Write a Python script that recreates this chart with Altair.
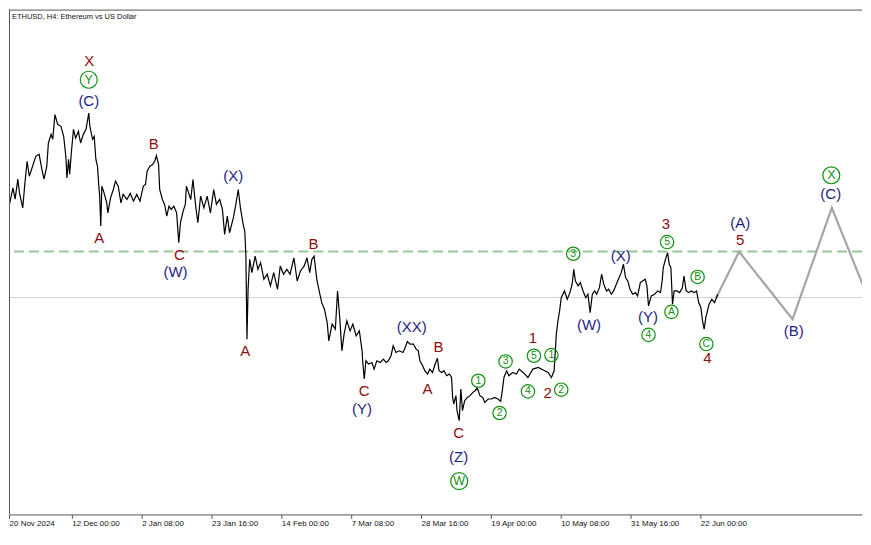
import altair as alt
import pandas as pd

# ---------------- data (H4 bar index from 20 Nov 2024 16:00, price in USD) -------------
tick_values = [13, 128, 256, 384, 512, 640, 768, 896, 1024, 1152, 1280]
tick_labels = ["20 Nov 2024", "12 Dec 00:00", "2 Jan 08:00", "23 Jan 16:00", "14 Feb 00:00",
               "7 Mar 08:00", "28 Mar 16:00", "19 Apr 00:00", "10 May 08:00", "31 May 16:00",
               "22 Jun 00:00"]

bars = [1, 5, 9, 13, 20, 24, 29, 32, 38, 42, 46, 50, 56, 62, 68, 73, 77, 82, 85, 90, 93, 97, 102,
        108, 113, 117, 119, 122, 124, 127, 131, 135, 140, 144, 149, 154, 159, 161, 166, 169, 172,
        175, 177, 179, 181, 183, 187, 192, 194, 199, 204, 208, 213, 218, 222, 229, 235, 241, 247,
        253, 259, 263, 266, 271, 276, 280, 283, 287, 289, 294, 298, 302, 306, 310, 315, 320,
        324, 327, 332, 336, 338, 342, 346, 350, 355, 359, 364, 370, 376, 382, 388, 393, 399, 404,
        408, 413, 417, 424, 428, 433, 437, 442, 445, 447, 449, 451, 454, 458, 464, 469, 474, 480,
        486, 492, 498, 505, 510, 516, 522, 528, 535, 541, 547, 554, 559, 564, 568, 572, 577, 582,
        586, 591, 596,
        599, 605, 611, 615, 619, 623, 627, 632, 638, 643, 649, 655, 660, 661, 664, 667, 672, 678,
        682, 687, 693, 699, 704, 708, 713, 717, 722, 728, 735, 739, 743, 748, 754, 759, 763, 766,
        771, 775, 780, 784, 789, 794, 798, 801, 806, 810, 815, 820, 824, 826, 828, 832, 834, 838,
        841, 844, 848, 853, 858, 863, 867, 871, 876, 881, 885, 891, 897, 903, 909, 914, 917, 920,
        925, 929, 936, 943, 948, 955, 964, 973, 983, 992, 1001, 1007, 1012, 1016, 1019, 1022,
        1025, 1031, 1036, 1041, 1045, 1048, 1051, 1056, 1060, 1065, 1070, 1074, 1078, 1082, 1086,
        1090, 1095, 1099, 1103, 1108, 1112, 1117, 1121, 1126, 1131, 1135, 1139, 1143, 1147, 1151,
        1156, 1161, 1165, 1170, 1174, 1179, 1182, 1185, 1190, 1196, 1202, 1207, 1210, 1212, 1216,
        1220, 1223, 1226, 1229, 1232, 1237, 1242, 1247, 1250, 1254, 1259, 1263, 1269, 1273, 1277,
        1281, 1284, 1287, 1290, 1293, 1296, 1301, 1306, 1312]

prices = [3058, 3295, 3402, 3295, 3458, 3358, 3536, 3414, 3280, 3503, 3696, 3562, 3651, 3740, 3758,
          3625, 3536, 3651, 3859, 3936, 3892, 4112, 4025, 4008, 3919, 3740, 3547, 3714, 3580, 3770,
          3981, 3903, 3963, 3859, 3936, 3981, 4126, 4008, 3892, 3919, 3714, 3651, 3503, 3385, 3118,
          3474, 3414, 3325, 3236, 3369, 3444, 3518, 3474, 3325, 3400, 3355, 3409, 3340, 3400, 3340,
          3474, 3489, 3607, 3651, 3667, 3696, 3747, 3667, 3444, 3355, 3311, 3207, 3295, 3266, 3295,
          3236,
          2969, 3147, 3251, 3311, 3474, 3414, 3355, 3533, 3295, 3147, 3385, 3280, 3385, 3236, 3444,
          3311, 3355, 3266, 3044, 3207, 3058, 3191, 3295, 3444, 3280, 3133, 3073, 2850, 2109, 2554,
          2821, 2702, 2850, 2732, 2791, 2643, 2688, 2584, 2702, 2554, 2762, 2688, 2732, 2688, 2835,
          2628, 2717, 2762, 2835, 2702, 2821, 2850, 2643, 2524, 2435, 2376, 2257,
          2094, 2243, 2198, 2539, 2301, 2005, 2154, 2272, 2183, 2243, 2139, 2183, 2005, 1916, 1753,
          1916, 1887, 1901, 1842, 1916, 1901, 1931, 1901, 1916, 1961, 2050, 1990, 2005, 1990, 2034,
          2088, 2065, 2065, 2020, 2005, 1916, 1872, 1827, 1798, 1842, 1812, 1887, 1940, 1827, 1812,
          1827, 1783, 1798, 1767, 1589, 1531, 1605, 1471, 1382, 1664, 1471, 1560, 1589, 1605, 1634,
          1649, 1673, 1605, 1589, 1545, 1575, 1575, 1589, 1575, 1554, 1649, 1767, 1827, 1783, 1812,
          1798, 1842, 1812, 1767, 1842, 1856, 1833, 1812, 1767, 1827, 2154, 2272, 2361, 2479, 2539,
          2465, 2524, 2599, 2732, 2628, 2584, 2613, 2539, 2479, 2510, 2346, 2510, 2539, 2510, 2568,
          2688, 2599, 2539, 2554, 2510, 2539, 2599, 2657, 2702, 2777, 2657, 2628, 2554, 2510, 2524,
          2495, 2613, 2628, 2643, 2584, 2406, 2495, 2510, 2539, 2524, 2628, 2746, 2821, 2880, 2777,
          2746, 2421, 2539, 2539, 2524, 2568, 2672, 2539, 2524, 2539, 2524, 2539, 2435, 2390, 2272,
          2198, 2301, 2361, 2421, 2465, 2435, 2510]

proj_bars = [1309, 1351, 1449, 1521, 1592]
proj_prices = [2479, 2889, 2287, 3280, 2421]

level_gray = [2480]
level_green = [2890]

red_labels = ["X", "B", "A", "C", "A", "B", "C", "A", "B", "C", "1", "2", "3", "5", "4"]
red_bars = [160, 278, 178, 325, 446, 571, 664, 780, 800, 837, 973, 1000, 1217, 1353, 1293]
red_prices = [4592, 3854, 3008, 2859, 2005, 2955, 1643, 1664, 2041, 1273, 2118, 1629, 3133, 2996, 1945]

blue_labels = ["(C)", "(W)", "(X)", "(Y)", "(XX)", "(Z)", "(W)", "(X)", "(Y)", "(A)", "(B)", "(C)"]
blue_bars = [159, 318, 424, 660, 751, 837, 1076, 1134, 1184, 1353, 1451, 1519]
blue_prices = [4236, 2711, 3562, 1486, 2219, 1062, 2236, 2850, 2308, 3147, 2183, 3400]

green_labels = ["Y", "W", "1", "2", "3", "4", "5", "1", "2", "3", "5", "B", "A", "4", "C", "X"]
green_bars = [159, 838, 873, 912, 923, 964, 975, 1007, 1025, 1047, 1219, 1275, 1227, 1185, 1291, 1520]
green_prices = [4423, 842, 1738, 1450, 1910, 1643, 1961, 1967, 1658, 2871, 2975, 2664, 2352, 2147, 2065, 3571]
green_degree = ["primary", "primary", "minute", "minute", "minute", "minute", "minute", "minute",
                "minute", "minute", "minute", "minute", "minute", "minute", "minute", "primary"]

title_text = "ETHUSD, H4:  Ethereum vs US Dollar"

assert len(bars) == len(prices)

# ---------------- styling ----------------
RED = "#8e0d0d"
BLUE = "#1f2585"
GREEN = "#119111"
FRAME = "#555555"
FONT = "Liberation Sans"
W, H = 855, 506

xs = alt.Scale(domain=[12.8, 1576.3], nice=False, zero=False)
ys = alt.Scale(domain=[545.4, 5048.8], nice=False, zero=False)

label_expr = "[" + ",".join("'" + t + "'" for t in tick_labels) + "][round(datum.value/128)]"
xaxis = alt.Axis(values=tick_values, labelExpr=label_expr, title=None, grid=False,
                 labelAlign="left", labelBaseline="top", labelPadding=1, tickSize=4,
                 tickColor=FRAME, domainColor=FRAME, labelColor="#111111",
                 labelFont=FONT, labelFontSize=8, labelOverlap=False, labelFlush=False)

X = alt.X("bar:Q", scale=xs, axis=xaxis)
Y = alt.Y("price:Q", scale=ys, axis=None)

price_df = pd.DataFrame({"bar": bars, "price": prices})
proj_df = pd.DataFrame({"bar": proj_bars, "price": proj_prices})
red_df = pd.DataFrame({"bar": red_bars, "price": red_prices, "label": red_labels})
blue_df = pd.DataFrame({"bar": blue_bars, "price": blue_prices, "label": blue_labels})
green_df = pd.DataFrame({"bar": green_bars, "price": green_prices, "label": green_labels,
                         "degree": green_degree})

gray_rule = alt.Chart(pd.DataFrame({"price": level_gray})).mark_rule(
    color="#d2d2d2", strokeWidth=1).encode(y=Y)
green_rule = alt.Chart(pd.DataFrame({"price": level_green})).mark_rule(
    color="#98c898", strokeWidth=2, strokeDash=[10, 5]).encode(y=Y)

proj = alt.Chart(proj_df).mark_line(color="#a6a6a6", strokeWidth=2.2, clip=True).encode(x=X, y=Y)
line = alt.Chart(price_df).mark_line(color="#000000", strokeWidth=1.2, clip=True).encode(x=X, y=Y)

red_txt = alt.Chart(red_df).mark_text(color=RED, font=FONT, fontSize=15, align="center",
                                      baseline="middle").encode(x=X, y=Y, text="label:N")
blue_txt = alt.Chart(blue_df).mark_text(color=BLUE, font=FONT, fontSize=15, align="center",
                                        baseline="middle").encode(x=X, y=Y, text="label:N")
green_circ = alt.Chart(green_df).mark_point(shape="circle", filled=False, color=GREEN,
                                            strokeWidth=1.2, opacity=1).encode(
    x=X, y=Y,
    size=alt.Size("degree:N", scale=alt.Scale(domain=["primary", "minute"], range=[289, 180]),
                  legend=None))
green_txt = alt.Chart(green_df).mark_text(color=GREEN, font=FONT, align="center",
                                          baseline="middle").encode(
    x=X, y=Y, text="label:N",
    size=alt.Size("degree:N", scale=alt.Scale(domain=["primary", "minute"], range=[12.5, 10.5]),
                  legend=None))

# frame (left and top edges; bottom edge is the x-axis line)
frame_top = alt.Chart(pd.DataFrame({"k": [0]})).mark_rule(color=FRAME, strokeWidth=1).encode(
    x=alt.value(0), x2=alt.value(W), y=alt.value(0.5))
frame_left = alt.Chart(pd.DataFrame({"k": [0]})).mark_rule(color=FRAME, strokeWidth=1).encode(
    x=alt.value(0.5), y=alt.value(0), y2=alt.value(H))

title = alt.Chart(pd.DataFrame({"t": [title_text]})).mark_text(
    align="left", baseline="top", font=FONT, fontSize=7.5, color="#111111").encode(
    x=alt.value(3), y=alt.value(3), text="t:N")

chart = alt.layer(gray_rule, green_rule, proj, line, red_txt, blue_txt, green_circ, green_txt,
                  frame_top, frame_left, title).resolve_scale(size="independent").properties(
    width=W, height=H, padding=0, background="white"
).configure_view(strokeWidth=0)

chart.save("out.html", embed_options={"renderer": "svg", "actions": False})
